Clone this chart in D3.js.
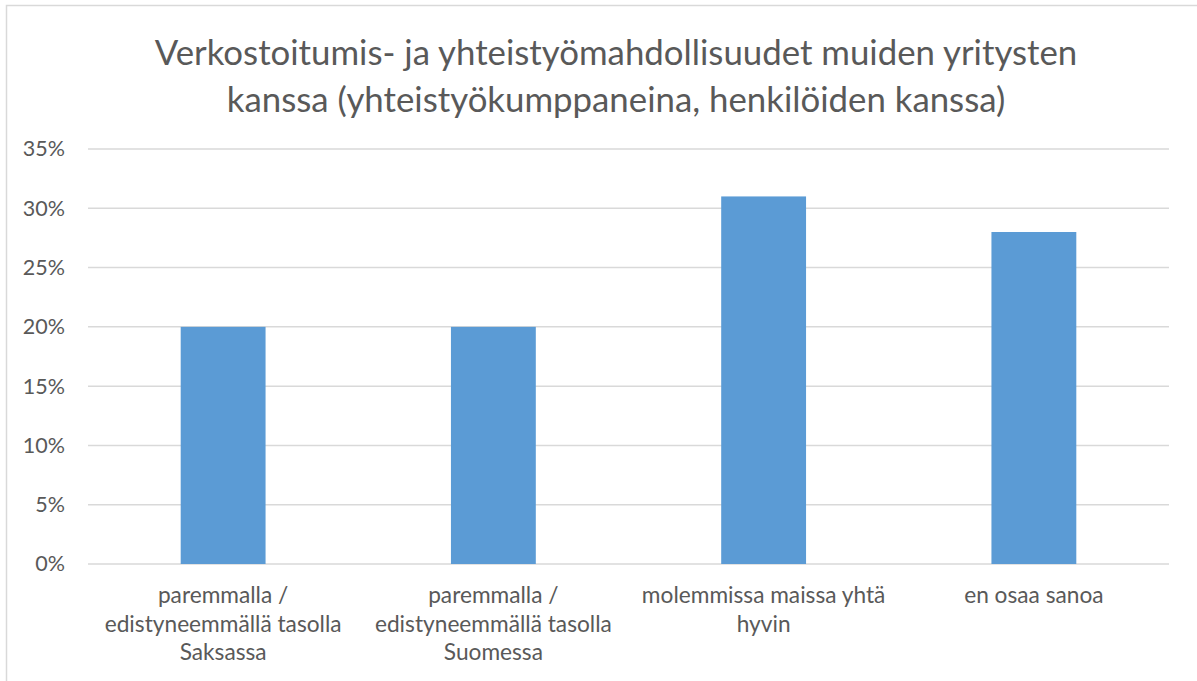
<!DOCTYPE html>
<html>
<head>
<meta charset="utf-8">
<script src="https://cdn.jsdelivr.net/npm/d3@7"></script>
<style>
  body { margin: 0; background: #fff; }
  text { font-family: Lato, "Open Sans", sans-serif; fill: #595959; }
</style>
</head>
<body>
<div id="vis-container"></div>
<script>
// Chart data
const categories = [
  ["paremmalla /", "edistyneemmällä tasolla", "Saksassa"],
  ["paremmalla /", "edistyneemmällä tasolla", "Suomessa"],
  ["molemmissa maissa yhtä", "hyvin"],
  ["en osaa sanoa"]
];
const values = [0.20, 0.20, 0.31, 0.28];
const yTicks = [0, 0.05, 0.10, 0.15, 0.20, 0.25, 0.30, 0.35];
const titleLines = [
  "Verkostoitumis- ja yhteistyömahdollisuudet muiden yritysten",
  "kanssa (yhteistyökumppaneina, henkilöiden kanssa)"
];

const width = 1197;
const height = 681;
const margin = { left: 88, right: 28, top: 149, bottom: 117 };

const svg = d3.select("#vis-container")
  .append("svg")
  .attr("width", width)
  .attr("height", height);

// chart border
svg.append("rect")
  .attr("x", 6.5).attr("y", 5.5)
  .attr("width", width + 10).attr("height", height + 10)
  .attr("fill", "none")
  .attr("stroke", "#d9d9d9")
  .attr("stroke-width", 1.5);

// title
svg.append("text")
  .attr("text-anchor", "middle")
  .attr("font-size", "34.8px")
  .selectAll("tspan")
  .data(titleLines)
  .join("tspan")
  .attr("x", 616)
  .attr("y", (d, i) => 65 + i * 47)
  .text(d => d);

const xScale = d3.scaleBand()
  .domain(d3.range(categories.length))
  .range([margin.left, width - margin.right])
  .paddingInner(0.686)
  .paddingOuter(0.343);

const yScale = d3.scaleLinear()
  .domain([0, 0.35])
  .range([height - margin.bottom, margin.top]);

// gridlines
svg.append("g")
  .selectAll("line")
  .data(yTicks)
  .join("line")
  .attr("x1", margin.left)
  .attr("x2", width - margin.right)
  .attr("y1", d => yScale(d))
  .attr("y2", d => yScale(d))
  .attr("stroke", "#d9d9d9")
  .attr("stroke-width", 1.5);

// y-axis labels
const yAxis = svg.append("g")
  .attr("transform", `translate(${margin.left}, 0)`)
  .call(d3.axisLeft(yScale).tickValues(yTicks).tickFormat(d3.format(".0%")).tickSize(0).tickPadding(23));
yAxis.select(".domain").remove();
yAxis.selectAll("text")
  .attr("font-size", "21.5px")
  .attr("font-family", "Lato, sans-serif")
  .attr("fill", "#595959");

// bars
svg.selectAll(".bar")
  .data(values)
  .join("rect")
  .attr("class", "bar")
  .attr("x", (d, i) => xScale(i))
  .attr("y", d => yScale(d))
  .attr("width", xScale.bandwidth())
  .attr("height", d => yScale(0) - yScale(d))
  .attr("fill", "#5b9bd5");

// category labels
svg.append("g")
  .selectAll("text")
  .data(categories)
  .join("text")
  .attr("text-anchor", "middle")
  .attr("font-size", "22.7px")
  .each(function (lines, i) {
    d3.select(this).selectAll("tspan")
      .data(lines)
      .join("tspan")
      .attr("x", xScale(i) + xScale.bandwidth() / 2)
      .attr("y", (d, j) => 603 + j * 28.5)
      .text(d => d);
  });
</script>
</body>
</html>
